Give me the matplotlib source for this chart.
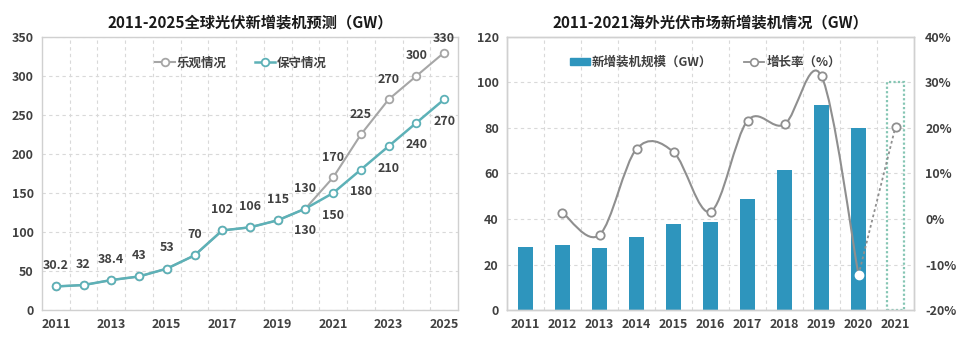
import numpy as np
import matplotlib
matplotlib.use("Agg")
import matplotlib.pyplot as plt
from matplotlib.path import Path
from matplotlib.patches import PathPatch, Patch
from matplotlib.lines import Line2D
from matplotlib.ticker import FuncFormatter, MultipleLocator

plt.rcParams['font.family'] = ['Noto Sans CJK SC', 'DejaVu Sans']

# ---------------- data ----------------
years_left = list(range(2011, 2026))
optimistic = [30.2, 32, 38.4, 43, 53, 70, 102, 106, 115, 130, 170, 225, 270, 300, 330]
conservative = [30.2, 32, 38.4, 43, 53, 70, 102, 106, 115, 130, 150, 180, 210, 240, 270]
left_title = "2011-2025全球光伏新增装机预测（GW）"
left_labels = ["乐观情况", "保守情况"]

years_right = [str(y) for y in range(2011, 2022)]
new_install = [27.8, 28.4, 27.3, 32.2, 37.7, 38.5, 48.8, 61.5, 90.0, 80.1]
new_install_2021 = 100
growth_years = years_right[1:10]
growth = [1.4, -3.5, 15.4, 14.7, 1.6, 21.6, 20.8, 31.4, -12.3]
growth_2021 = 20.3
right_title = "2011-2021海外光伏市场新增装机情况（GW）"
right_labels = ["新增装机规模（GW）", "增长率（%）"]

# ---------------- style ----------------
TXT = "#404040"
GRAY = "#A6A6A6"
TEAL = "#5DB1B7"
BAR = "#2E95BD"
GRID = "#D9D9D9"
FRAME = "#D0D0D0"
CURVE = "#8F8F8F"

fig = plt.figure(figsize=(9.67, 3.53), dpi=100)

def style_axes(ax):
    for s in ax.spines.values():
        s.set_color(FRAME)
        s.set_linewidth(1.0)
    ax.tick_params(length=0, colors=TXT, labelsize=9, pad=6)
    for lab in ax.get_xticklabels() + ax.get_yticklabels():
        lab.set_fontweight("bold")

# ---------------- left chart ----------------
ax1 = fig.add_axes([0.0434, 0.1218, 0.4302, 0.7734])
ax1.set_xlim(2010.5, 2025.5)
ax1.set_ylim(0, 350)
ax1.yaxis.set_major_locator(MultipleLocator(50))
ax1.set_xticks(years_left[::2])
ax1.set_xticks(np.arange(2011.5, 2025.5, 1), minor=True)
ax1.grid(True, axis="y", which="major", color=GRID, linestyle=(0, (3, 3)), linewidth=0.8)
ax1.grid(True, axis="x", which="minor", color=GRID, linestyle=(0, (3, 3)), linewidth=0.8)
ax1.tick_params(which="minor", length=0)
ax1.set_axisbelow(True)

l_opt, = ax1.plot(years_left, optimistic, color=GRAY, lw=1.5, marker="o", ms=5.5,
                  mfc="white", mec=GRAY, mew=1.3, label=left_labels[0], zorder=3)
l_con, = ax1.plot(years_left, conservative, color=TEAL, lw=1.8, marker="o", ms=5.5,
                  mfc="white", mec=TEAL, mew=1.3, label=left_labels[1], zorder=4)

lab_kw = dict(textcoords="offset pixels", ha="center", va="center",
              fontsize=9, fontweight="bold", color=TXT)
for yr, vo, vc in zip(years_left, optimistic, conservative):
    if yr < 2020:
        ax1.annotate(f"{vo:g}", (yr, vo), xytext=(0, 21), **lab_kw)
    else:
        dy = 14 if vo >= 330 else 20
        ax1.annotate(f"{vo:g}", (yr, vo), xytext=(0, dy), **lab_kw)
        ax1.annotate(f"{vc:g}", (yr, vc), xytext=(0, -22), **lab_kw)

leg1 = ax1.legend(handles=[l_opt, l_con], loc="center", bbox_to_anchor=(0.478, 0.905),
                  ncol=2, frameon=False, fontsize=9, handlelength=1.6,
                  columnspacing=2.2, handletextpad=0.2)
for t in leg1.get_texts():
    t.set_color(TXT)
    t.set_fontweight("bold")
ax1.set_title(left_title, fontsize=11, fontweight="bold", color="#1a1a1a", pad=7)
style_axes(ax1)

# ---------------- right chart ----------------
ax2 = fig.add_axes([0.5243, 0.1218, 0.4209, 0.7734])
x = np.arange(len(years_right))
ax2.set_xlim(-0.5, len(years_right) - 0.5)
ax2.set_ylim(0, 120)
ax2.yaxis.set_major_locator(MultipleLocator(20))
ax2.set_xticks(x)
ax2.set_xticklabels(years_right)
ax2.set_xticks(np.arange(0.5, len(years_right) - 0.5, 1), minor=True)
ax2.grid(True, axis="y", which="major", color=GRID, linestyle=(0, (3, 3)), linewidth=0.8)
ax2.grid(True, axis="x", which="minor", color=GRID, linestyle=(0, (3, 3)), linewidth=0.8)
ax2.tick_params(which="minor", length=0)
ax2.set_axisbelow(True)

bars = ax2.bar(x[:len(new_install)], new_install, width=0.4, color=BAR, zorder=2,
               label=right_labels[0])
ax2.bar(x[len(new_install)], new_install_2021, width=0.44, facecolor="none",
        edgecolor="#86C6B4", linestyle=(0, (1, 1)), linewidth=1.6, zorder=2)

ax3 = ax2.twinx()
ax3.set_ylim(-20, 40)
ax3.yaxis.set_major_locator(MultipleLocator(10))
ax3.yaxis.set_major_formatter(FuncFormatter(lambda v, p: f"{v:.0f}%"))

gx = np.array([years_right.index(y) for y in growth_years], dtype=float)
gy = np.array(growth, dtype=float)
pts = np.column_stack([gx, gy])
n = len(pts)
verts = [pts[0]]
codes = [Path.MOVETO]
for i in range(n - 1):
    p0 = pts[i - 1] if i > 0 else pts[i]
    p1 = pts[i]
    p2 = pts[i + 1]
    p3 = pts[i + 2] if i + 2 < n else pts[i + 1]
    c1 = p1 + (p2 - p0) / 6.0
    c2 = p2 - (p3 - p1) / 6.0
    verts += [c1, c2, p2]
    codes += [Path.CURVE4] * 3
ax3.add_patch(PathPatch(Path(verts, codes), facecolor="none", edgecolor=CURVE,
                        lw=1.5, zorder=3))
x21 = years_right.index("2021")
ax3.plot([gx[-1], x21], [gy[-1], growth_2021], color=CURVE, lw=1.3,
         linestyle=(0, (1.5, 1.5)), zorder=3)
ax3.plot(gx[:-1], gy[:-1], linestyle="none", marker="o", ms=6, mfc="white",
         mec=CURVE, mew=1.3, zorder=4)
ax3.plot([gx[-1]], [gy[-1]], linestyle="none", marker="o", ms=6, mfc="white",
         mec="white", mew=1.0, zorder=4)
ax3.plot([x21], [growth_2021], linestyle="none", marker="o", ms=6, mfc="white",
         mec=CURVE, mew=1.3, zorder=4)

h_bar = Patch(facecolor=BAR, edgecolor=BAR)
h_line = Line2D([], [], color=CURVE, lw=1.3, marker="o", ms=5.5, mfc="white", mec=CURVE, mew=1.2)
leg2 = ax3.legend([h_bar, h_line], right_labels, loc="center", bbox_to_anchor=(0.487, 0.908),
                  ncol=2, frameon=False, fontsize=9, handlelength=1.6, handleheight=0.5,
                  columnspacing=2.5, handletextpad=0.2)
for t in leg2.get_texts():
    t.set_color(TXT)
    t.set_fontweight("bold")

ax2.set_title(right_title, fontsize=11, fontweight="bold", color="#1a1a1a", pad=7)
style_axes(ax2)
style_axes(ax3)
ax3.tick_params(pad=8)

fig.savefig("out.png", dpi=100)
